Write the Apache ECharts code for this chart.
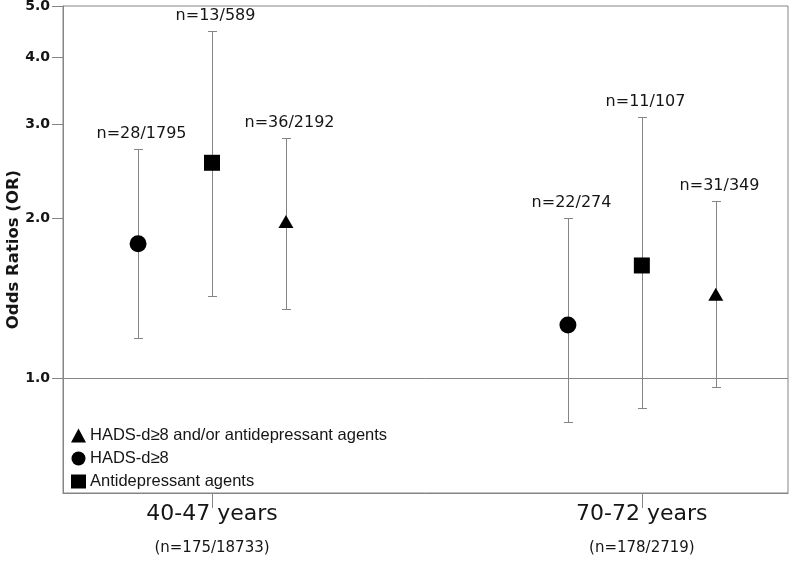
<!DOCTYPE html>
<html><head><meta charset="utf-8">
<script src="https://cdn.jsdelivr.net/npm/echarts@6/dist/echarts.min.js"></script>
<style>html,body{margin:0;padding:0;background:#fff}#c{width:793px;height:566px}</style>
</head><body><div id="c"></div>
<script>
// ---- data ----
const groups = ['40-47 years', '70-72 years'];
const groupCounts = ['(n=175/18733)', '(n=178/2719)'];
const seriesNames = ['HADS-d\u22658', 'Antidepressant agents', 'HADS-d\u22658 and/or antidepressant agents'];

const hadsOR   = [1.79, 1.26];
const hadsLow  = [1.19, 0.83];
const hadsHigh = [2.70, 2.00];
const hadsN    = ['n=28/1795', 'n=22/274'];

const antiOR   = [2.54, 1.63];
const antiLow  = [1.43, 0.88];
const antiHigh = [4.49, 3.09];
const antiN    = ['n=13/589', 'n=11/107'];

const combOR   = [1.97, 1.44];
const combLow  = [1.35, 0.965];
const combHigh = [2.83, 2.15];
const combN    = ['n=36/2192', 'n=31/349'];

const yTicks = [1.0, 2.0, 3.0, 4.0, 5.0];
const yMin = 0.61, yMax = 5.0;
const refLine = 1.0;

// ---- layout ----
const groupX = [1, 4];
const offsets = [-0.516, 0, 0.516];
const lg = v => Math.log10(v);
const GRAY = '#858585';
const TXT = '#151515';

function errSeries(low, high, labels, off) {
  return {
    type: 'custom', silent: true, z: 2,
    data: groups.map((g, i) => [groupX[i] + off, lg(low[i]), lg(high[i]), i]),
    encode: { x: 0, y: [1, 2] },
    renderItem: (params, api) => {
      const x = api.value(0);
      const p1 = api.coord([x, api.value(1)]);
      const p2 = api.coord([x, api.value(2)]);
      const cx = Math.round(p1[0]) + 0.5;
      const y1 = Math.round(p1[1]) + 0.5, y2 = Math.round(p2[1]) + 0.5;
      const hw = 4.5;
      const st = { stroke: GRAY, lineWidth: 1 };
      return { type: 'group', children: [
        { type: 'line', shape: { x1: cx, y1: y1, x2: cx, y2: y2 }, style: st },
        { type: 'line', shape: { x1: cx - hw, y1: y1, x2: cx + hw, y2: y1 }, style: st },
        { type: 'line', shape: { x1: cx - hw, y1: y2, x2: cx + hw, y2: y2 }, style: st },
        { type: 'text', style: { text: labels[api.value(3)], x: cx + 3, y: y2 - 8,
            align: 'center', verticalAlign: 'bottom',
            font: '16px "DejaVu Sans"', fill: TXT } }
      ] };
    }
  };
}

function pointSeries(name, or, off, symbol, size) {
  return {
    name: name, type: 'scatter', z: 5, symbol: symbol, symbolSize: size,
    itemStyle: { color: '#000', opacity: 1 },
    data: groups.map((g, i) => [groupX[i] + off, lg(or[i])])
  };
}

const chart = echarts.init(document.getElementById('c'), null, { renderer: 'canvas' });
const hadsPts = pointSeries(seriesNames[0], hadsOR, offsets[0], 'circle', 17);
hadsPts.markLine = {
  silent: true, symbol: 'none', animation: false,
  label: { show: false },
  lineStyle: { color: GRAY, width: 1, type: 'solid' },
  data: [{ yAxis: lg(refLine) }]
};

chart.setOption({
  animation: false,
  backgroundColor: '#fff',
  grid: { left: 63, right: 5, top: 6, bottom: 73, show: true, borderColor: GRAY, borderWidth: 1,
          containLabel: false, outerBoundsMode: 'none' },
  legend: {
    orient: 'vertical', left: 66, top: 422, itemWidth: 15, itemHeight: 14, itemGap: 6,
    textStyle: { fontFamily: '"Liberation Sans"', fontSize: 16.5, color: TXT, padding: [0, 0, 0, -1] },
    data: [
      { name: seriesNames[2], icon: 'triangle' },
      { name: seriesNames[0], icon: 'circle' },
      { name: seriesNames[1], icon: 'rect' }
    ],
    selectedMode: false
  },
  xAxis: {
    type: 'value', min: -0.04, max: 5.02,
    splitLine: { show: false },
    axisLine: { show: true, onZero: false, lineStyle: { color: GRAY } },
    axisTick: { show: true, customValues: groupX, length: 15, lineStyle: { color: GRAY } },
    axisLabel: {
      customValues: groupX, margin: 8,
      formatter: v => {
        const i = groupX.indexOf(v);
        return i < 0 ? '' : '{a|' + groups[i] + '}\n{b|' + groupCounts[i] + '}';
      },
      rich: {
        a: { fontFamily: '"DejaVu Sans"', fontSize: 22, color: TXT, lineHeight: 26 },
        b: { fontFamily: '"DejaVu Sans"', fontSize: 15, color: TXT, lineHeight: 42 }
      }
    }
  },
  yAxis: {
    type: 'value', min: lg(yMin), max: lg(yMax),
    name: 'Odds Ratios (OR)', nameLocation: 'middle', nameGap: 41, nameMoveOverlap: false,
    nameTextStyle: { fontFamily: '"DejaVu Sans"', fontWeight: 'bold', fontSize: 16.5, color: TXT },
    splitLine: { show: false },
    axisLine: { show: true, onZero: false, lineStyle: { color: GRAY } },
    axisTick: { show: true, customValues: yTicks.map(lg), length: 11, lineStyle: { color: GRAY } },
    axisLabel: {
      customValues: yTicks.map(lg), margin: 13,
      fontFamily: '"DejaVu Sans"', fontWeight: 'bold', fontSize: 14, color: TXT,
      formatter: v => Math.pow(10, v).toFixed(1)
    }
  },
  series: [
    errSeries(hadsLow, hadsHigh, hadsN, offsets[0]),
    errSeries(antiLow, antiHigh, antiN, offsets[1]),
    errSeries(combLow, combHigh, combN, offsets[2]),
    hadsPts,
    pointSeries(seriesNames[1], antiOR, offsets[1], 'rect', 16),
    pointSeries(seriesNames[2], combOR, offsets[2], 'triangle', [15, 13])
  ]
});
</script></body></html>
